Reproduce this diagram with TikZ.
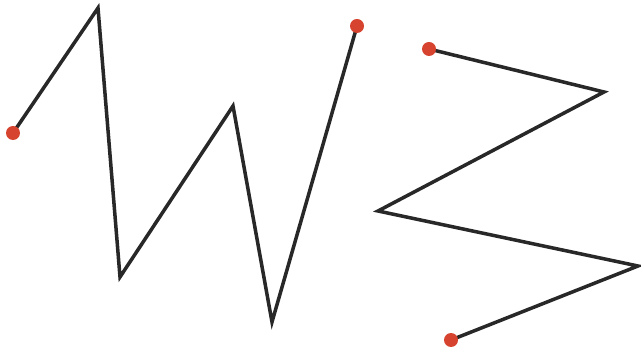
\documentclass[tikz,border=0pt]{standalone}
\definecolor{dotred}{RGB}{214,68,48}
\definecolor{linegray}{RGB}{40,40,40}
\tikzset{
  zigzag/.style={line width=2pt, linegray, line join=miter},
  enddot/.style={circle, fill=dotred, inner sep=0pt, minimum size=0.28cm}
}
\begin{document}
\begin{tikzpicture}[x=0.02cm, y=-0.02cm]
        \useasboundingbox (0,0) rectangle (641,350);

        % Left zigzag
        \coordinate (a0) at (13,133);
        \coordinate (a1) at (98,8);
        \coordinate (a2) at (120,277);
        \coordinate (a3) at (233,106);
        \coordinate (a4) at (272,322);
        \coordinate (a5) at (357,26);
        \draw[zigzag] (a0) -- (a1) -- (a2) -- (a3) -- (a4) -- (a5);

        % Right zigzag
        \coordinate (b0) at (429,49);
        \coordinate (b1) at (604,92);
        \coordinate (b2) at (378,211);
        \coordinate (b3) at (638,266);
        \coordinate (b4) at (451,340);
        \draw[zigzag] (b0) -- (b1) -- (b2) -- (b3) -- (b4);

        % End points
        \node[enddot] (dotA) at (a0) {};
        \node[enddot] (dotB) at (a5) {};
        \node[enddot] (dotC) at (b0) {};
        \node[enddot] (dotD) at (b4) {};
    \end{tikzpicture}
\end{document}
